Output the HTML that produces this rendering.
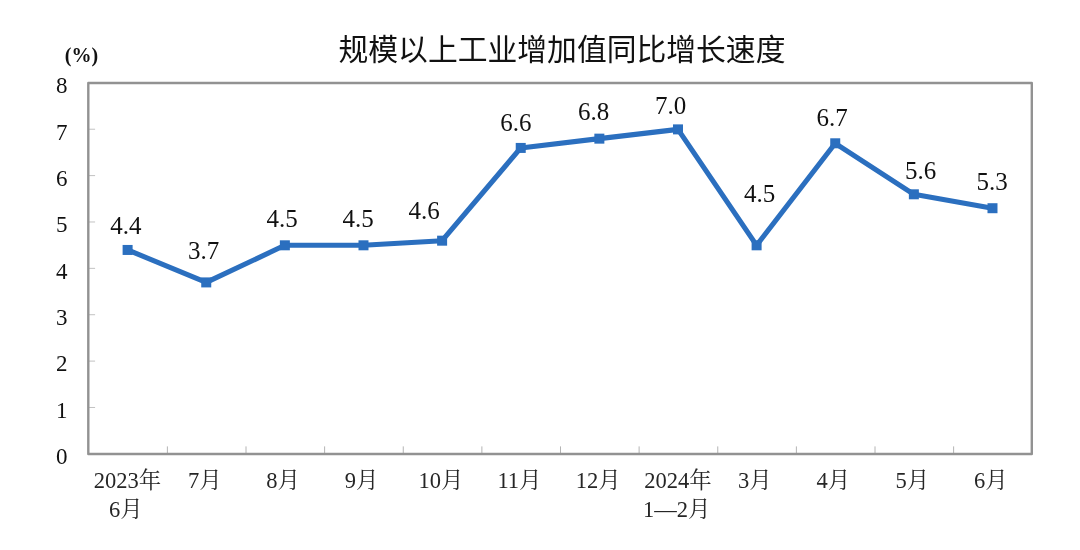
<!DOCTYPE html>
<html lang="zh-CN"><head><meta charset="utf-8"><title>规模以上工业增加值同比增长速度</title>
<style>html,body{margin:0;padding:0;background:#fff;}body{width:1080px;height:550px;overflow:hidden;font-family:"Liberation Serif",serif;}svg{display:block;}</style>
</head><body>
<svg width="1080" height="550" viewBox="0 0 1080 550" role="img" aria-label="规模以上工业增加值同比增长速度">
<rect width="1080" height="550" fill="#fff"/>
<defs><filter id="soft" x="0" y="0" width="1080" height="550" filterUnits="userSpaceOnUse" color-interpolation-filters="sRGB"><feGaussianBlur stdDeviation="0.45"/></filter></defs>
<g filter="url(#soft)">
<path d="M167.38 454.00V446.40M246.00 454.00V446.40M324.62 454.00V446.40M403.25 454.00V446.40M481.88 454.00V446.40M560.50 454.00V446.40M639.12 454.00V446.40M717.75 454.00V446.40M796.38 454.00V446.40M875.00 454.00V446.40M953.62 454.00V446.40" stroke="#b4b4b4" stroke-width="1" fill="none"/>
<path d="M88.30 407.48H95.10M88.30 361.10H95.10M88.30 314.73H95.10M88.30 268.35H95.10M88.30 221.97H95.10M88.30 175.60H95.10M88.30 129.22H95.10" stroke="#c2c2c2" stroke-width="1" fill="none"/>
<rect x="88.30" y="83.00" width="943.50" height="371.00" fill="none" stroke="#929292" stroke-width="2.4" stroke-linejoin="round"/>
<polyline points="127.61,249.95 206.24,282.41 284.86,245.31 363.49,245.31 442.11,240.68 520.74,147.93 599.36,138.65 677.99,129.38 756.61,245.31 835.24,143.29 913.86,194.30 992.49,208.21" fill="none" stroke="#2b6fbf" stroke-width="5.1" stroke-linejoin="round" stroke-linecap="round"/>
<g fill="#2b6fbf"><rect x="122.61" y="244.95" width="10.0" height="10.0"/><rect x="201.24" y="277.41" width="10.0" height="10.0"/><rect x="279.86" y="240.31" width="10.0" height="10.0"/><rect x="358.49" y="240.31" width="10.0" height="10.0"/><rect x="437.11" y="235.68" width="10.0" height="10.0"/><rect x="515.74" y="142.93" width="10.0" height="10.0"/><rect x="594.36" y="133.65" width="10.0" height="10.0"/><rect x="672.99" y="124.38" width="10.0" height="10.0"/><rect x="751.61" y="240.31" width="10.0" height="10.0"/><rect x="830.24" y="138.29" width="10.0" height="10.0"/><rect x="908.86" y="189.30" width="10.0" height="10.0"/><rect x="987.49" y="203.21" width="10.0" height="10.0"/></g>
<g fill="#111"><title>规模以上工业增加值同比增长速度</title>
<text x="562" y="60" font-size="29.8" text-anchor="middle" font-family="&quot;Liberation Sans&quot;, &quot;Noto Sans CJK SC&quot;, sans-serif">规模以上工业增加值同比增长速度</text>
</g>
<g fill="#111" font-family="&quot;Liberation Serif&quot;, serif" font-size="23" text-anchor="end"><title>(%) 0 1 2 3 4 5 6 7 8</title>
<text x="67.6" y="464">0</text>
<text x="67.6" y="417.7">1</text>
<text x="67.6" y="371.4">2</text>
<text x="67.6" y="325">3</text>
<text x="67.6" y="278.6">4</text>
<text x="67.6" y="232.3">5</text>
<text x="67.6" y="186">6</text>
<text x="67.6" y="139.5">7</text>
<text x="67.6" y="93.1">8</text>
<text x="81.5" y="62.3" font-size="20" font-weight="bold" text-anchor="middle">(%)</text>
</g>
<g fill="#111" font-family="&quot;Liberation Serif&quot;, serif" font-size="25" text-anchor="middle"><title>4.4 3.7 4.5 4.5 4.6 6.6 6.8 7.0 4.5 6.7 5.6 5.3</title>
<text x="125.9" y="234.3">4.4</text>
<text x="203.6" y="259.3">3.7</text>
<text x="282" y="226.7">4.5</text>
<text x="358.2" y="227.2">4.5</text>
<text x="424" y="219.3">4.6</text>
<text x="515.9" y="130.8">6.6</text>
<text x="593.5" y="120.4">6.8</text>
<text x="670.5" y="114">7.0</text>
<text x="759.7" y="201.7">4.5</text>
<text x="832" y="126.3">6.7</text>
<text x="920.6" y="179">5.6</text>
<text x="992" y="190.1">5.3</text>
</g>
<g fill="#262626" font-family="&quot;Liberation Serif&quot;, &quot;Noto Serif CJK SC&quot;, serif" font-size="22.5" text-anchor="middle"><title>2023年6月 7月 8月 9月 10月 11月 12月 2024年1—2月 3月 4月 5月 6月</title>
<text x="127.5" y="488">2023年</text>
<text x="126" y="516.8">6月</text>
<text x="204.8" y="488">7月</text>
<text x="283.1" y="488">8月</text>
<text x="361.7" y="488">9月</text>
<text x="440.9" y="488">10月</text>
<text x="519.5" y="488">11月</text>
<text x="598.2" y="488">12月</text>
<text x="677.9" y="488">2024年</text>
<text x="676.8" y="516.8">1—2月</text>
<text x="755" y="488">3月</text>
<text x="833.3" y="488">4月</text>
<text x="912.3" y="488">5月</text>
<text x="990.8" y="488">6月</text>
</g>
</g>
</svg>
</body></html>
